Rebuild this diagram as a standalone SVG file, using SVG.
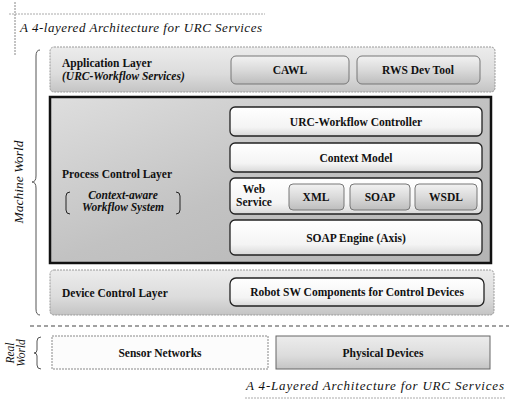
<svg xmlns="http://www.w3.org/2000/svg" width="509" height="406" viewBox="0 0 509 406" font-family="'Liberation Serif', 'DejaVu Serif', 'Times New Roman', serif">
<defs>
<linearGradient id="gLayer" x1="0" y1="0" x2="0" y2="1">
<stop offset="0" stop-color="#ececec"/><stop offset="0.6" stop-color="#dcdcdc"/><stop offset="1" stop-color="#c4c4c4"/>
</linearGradient>
<linearGradient id="gProc" x1="0" y1="0" x2="1" y2="1">
<stop offset="0" stop-color="#dedede"/><stop offset="0.5" stop-color="#c2c2c2"/><stop offset="1" stop-color="#b4b4b4"/>
</linearGradient>
<linearGradient id="gBtn" x1="0" y1="0" x2="0" y2="1">
<stop offset="0" stop-color="#f2f2f2"/><stop offset="0.5" stop-color="#dadada"/><stop offset="1" stop-color="#bdbdbd"/>
</linearGradient>
<linearGradient id="gWhite" x1="0" y1="0" x2="0" y2="1">
<stop offset="0" stop-color="#ffffff"/><stop offset="0.7" stop-color="#f4f4f4"/><stop offset="1" stop-color="#d8d8d8"/>
</linearGradient>
</defs>
<style>
text{font-family:'Liberation Serif','DejaVu Serif','Times New Roman',serif;fill:#111;}
.b{font-weight:bold;font-size:11.5px;}
.c{text-anchor:middle;}
.i{font-style:italic;}
.layer{fill:url(#gLayer);stroke:#999;stroke-width:1;stroke-dasharray:2 1;}
.white{fill:url(#gWhite);stroke:#222;stroke-width:1.3;}
.btn{fill:url(#gBtn);stroke:#777;stroke-width:1;}
.brace{fill:none;stroke:#555;stroke-width:1;}
</style>
<rect width="509" height="406" fill="#fff"/>

<g id="header">
<line x1="15" y1="2" x2="15" y2="56" stroke="#888" stroke-width="1" stroke-dasharray="2 1"/>
<line x1="9" y1="14" x2="265" y2="14" stroke="#aaa" stroke-width="1" stroke-dasharray="2 1"/>
<text x="20" y="32" class="i" font-size="13" textLength="242" lengthAdjust="spacing">A 4-layered Architecture for URC Services</text>
</g>

<g id="machine-world">
<path class="brace" d="M40 50 Q36 50 36 56 L36 176 Q36 182 32 182 Q36 182 36 188 L36 309 Q36 315 40 315"/>
<text transform="translate(23 182) rotate(-90)" class="i c" font-size="13.5">Machine World</text>
</g>

<g id="application-layer">
<rect class="layer" x="50" y="47" width="445" height="45" rx="4"/>
<text x="62" y="67" class="b" font-size="12">Application Layer</text>
<text x="62" y="80" class="b i">(URC-Workflow Services)</text>
</g>
<g id="cawl">
<rect class="btn" x="231" y="56" width="118" height="28" rx="5"/>
<text x="290" y="74" class="b c">CAWL</text>
</g>
<g id="rws-dev-tool">
<rect class="btn" x="357" y="56" width="123" height="28" rx="5"/>
<text x="418" y="74" class="b c">RWS Dev Tool</text>
</g>

<g id="process-control-layer">
<rect x="50" y="97" width="441" height="166" fill="url(#gProc)" stroke="#111" stroke-width="2.5"/>
<text x="62" y="178" class="b" font-size="12">Process Control Layer</text>
<text x="123" y="199" class="b i c" font-size="11">Context-aware</text>
<text x="123" y="211" class="b i c" font-size="11">Workflow System</text>
<path d="M70 192 Q66 192 66 196 L66 210 Q66 214 70 214" fill="none" stroke="#222" stroke-width="1"/>
<path d="M176 192 Q180 192 180 196 L180 210 Q180 214 176 214" fill="none" stroke="#222" stroke-width="1"/>
</g>
<g id="urc-workflow-controller">
<rect class="white" x="230" y="107" width="252" height="29" rx="5"/>
<text x="356" y="126" class="b c" font-size="12">URC-Workflow Controller</text>
</g>
<g id="context-model">
<rect class="white" x="230" y="143" width="252" height="29" rx="5"/>
<text x="356" y="162" class="b c" font-size="12">Context Model</text>
</g>
<g id="web-service">
<rect class="white" x="230" y="178" width="252" height="36" rx="5"/>
<text x="254" y="193" class="b c" font-size="12">Web</text>
<text x="254" y="206" class="b c" font-size="12">Service</text>
</g>
<g id="xml">
<rect class="btn" x="289" y="184" width="55" height="26" rx="4"/>
<text x="316" y="201" class="b c">XML</text>
</g>
<g id="soap">
<rect class="btn" x="350" y="184" width="60" height="26" rx="4"/>
<text x="380" y="201" class="b c">SOAP</text>
</g>
<g id="wsdl">
<rect class="btn" x="415" y="184" width="62" height="26" rx="4"/>
<text x="446" y="201" class="b c">WSDL</text>
</g>
<g id="soap-engine">
<rect class="white" x="230" y="220" width="252" height="35" rx="5"/>
<text x="356" y="242" class="b c" font-size="12">SOAP Engine (Axis)</text>
</g>

<g id="device-control-layer">
<rect class="layer" x="50" y="270" width="444" height="45" rx="4"/>
<text x="62" y="297" class="b" font-size="12">Device Control Layer</text>
</g>
<g id="robot-sw">
<rect class="white" x="230" y="278" width="254" height="28" rx="6" stroke-width="1.8"/>
<text x="357" y="296" class="b c">Robot SW Components for Control Devices</text>
</g>

<g id="separator">
<line x1="30" y1="326" x2="509" y2="326" stroke="#444" stroke-width="1.2" stroke-dasharray="4 3"/>
</g>

<g id="real-world">
<path class="brace" d="M41 337 Q37 337 37 341 L37 350 Q37 353 34 353 Q37 353 37 356 L37 365 Q37 369 41 369"/>
<text transform="translate(14 353) rotate(-90)" class="i c" font-size="11.5">Real</text>
<text transform="translate(25 353) rotate(-90)" class="i c" font-size="11.5">World</text>
</g>
<g id="sensor-networks">
<rect x="52" y="336" width="216" height="33" fill="#fcfcfc" stroke="#888" stroke-width="1" stroke-dasharray="2 1"/>
<text x="160" y="357" class="b c" font-size="12">Sensor Networks</text>
</g>
<g id="physical-devices">
<rect x="276" y="336" width="214" height="33" fill="url(#gLayer)" stroke="#666" stroke-width="1"/>
<text x="383" y="357" class="b c" font-size="12">Physical Devices</text>
</g>

<g id="caption">
<text x="246" y="390" class="i" font-size="13" textLength="258" lengthAdjust="spacing">A 4-Layered Architecture for URC Services</text>
<line x1="245" y1="398" x2="505" y2="398" stroke="#aaa" stroke-width="1" stroke-dasharray="2 1"/>
</g>
</svg>
